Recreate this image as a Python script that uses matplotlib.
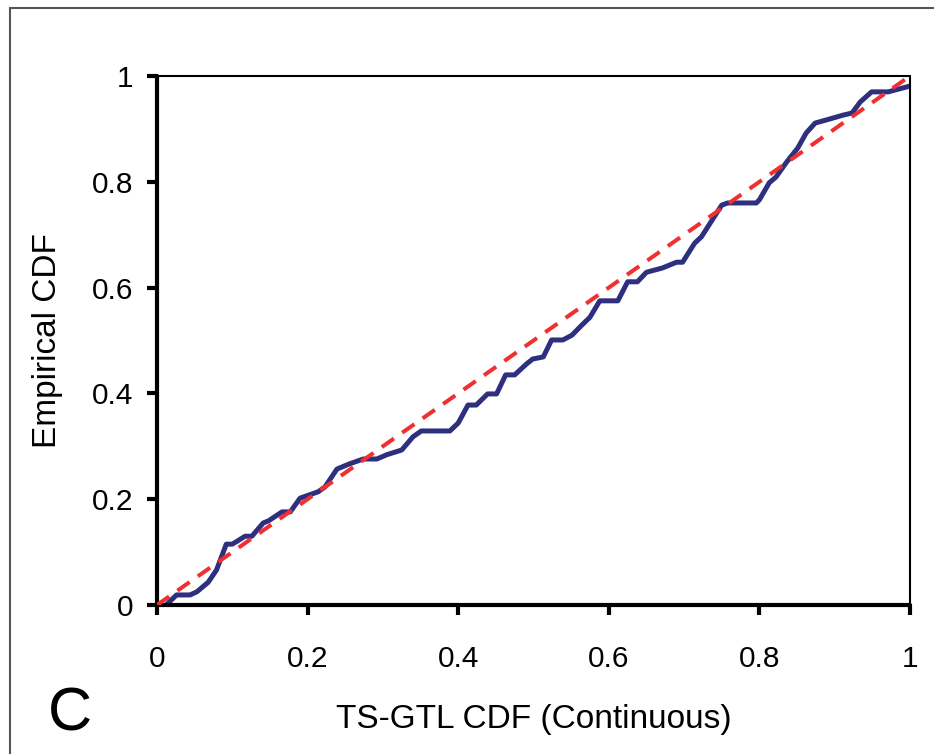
import matplotlib.pyplot as plt
from matplotlib.patches import Rectangle

plt.rcParams['font.family'] = ['Liberation Sans', 'DejaVu Sans']

# empirical CDF vs TS-GTL CDF
model_cdf = [0.015, 0.026, 0.044, 0.053, 0.068, 0.079, 0.092, 0.100, 0.117, 0.126,
             0.141, 0.148, 0.166, 0.177, 0.190, 0.214, 0.223, 0.239, 0.256, 0.274,
             0.292, 0.305, 0.325, 0.340, 0.351, 0.389, 0.400, 0.413, 0.424, 0.439,
             0.451, 0.463, 0.475, 0.491, 0.499, 0.513, 0.524, 0.539, 0.551, 0.562,
             0.575, 0.588, 0.612, 0.625, 0.638, 0.650, 0.671, 0.690, 0.698, 0.714,
             0.723, 0.750, 0.758, 0.796, 0.800, 0.813, 0.822, 0.836, 0.851, 0.862,
             0.874, 0.894, 0.911, 0.923, 0.934, 0.949, 0.971, 1.000]
empirical_cdf = [0.004, 0.019, 0.019, 0.025, 0.043, 0.066, 0.115, 0.115, 0.130, 0.130,
                 0.155, 0.159, 0.176, 0.176, 0.202, 0.214, 0.223, 0.257, 0.267, 0.276,
                 0.276, 0.284, 0.293, 0.318, 0.329, 0.329, 0.344, 0.378, 0.378, 0.399,
                 0.399, 0.435, 0.435, 0.456, 0.465, 0.469, 0.501, 0.501, 0.510, 0.526,
                 0.544, 0.575, 0.575, 0.611, 0.611, 0.629, 0.637, 0.648, 0.648, 0.684,
                 0.696, 0.756, 0.760, 0.760, 0.766, 0.798, 0.809, 0.837, 0.864, 0.892,
                 0.911, 0.919, 0.926, 0.930, 0.951, 0.970, 0.970, 0.981]
diag = [0, 1]
ticks = [0, 0.2, 0.4, 0.6, 0.8, 1]
tick_labels = ['0', '0.2', '0.4', '0.6', '0.8', '1']

fig = plt.figure(figsize=(9.34, 7.54), dpi=100)
fig.patches.append(Rectangle((10 / 934, -0.1), 1.2, 0.1 + (754 - 8) / 754,
                             transform=fig.transFigure, fill=False,
                             edgecolor='#555555', linewidth=1.5))

ax = fig.add_axes([157 / 934, (754 - 605) / 754, (910 - 157) / 934, (605 - 76) / 754])
ax.plot(model_cdf, empirical_cdf, color='#2e2f7f', linewidth=3.6, zorder=2,
        solid_joinstyle='round')
ax.plot(diag, diag, color='#f03030', linewidth=2.9, linestyle=(0, (3.7, 2.5)), zorder=3)

ax.set_xlim(0, 1)
ax.set_ylim(0, 1)
ax.set_xticks(ticks)
ax.set_xticklabels(tick_labels)
ax.set_yticks(ticks)
ax.set_yticklabels(tick_labels)

ax.spines['left'].set_linewidth(3)
ax.spines['bottom'].set_linewidth(3)
ax.spines['top'].set_linewidth(1.5)
ax.spines['right'].set_linewidth(1.5)
for s in ax.spines.values():
    s.set_capstyle('round')
ax.tick_params(direction='out', length=7, width=3, labelsize=21.5)
ax.tick_params(axis='x', pad=22)
ax.tick_params(axis='y', pad=10)

ax.set_xlabel('TS-GTL CDF (Continuous)', fontsize=24, labelpad=22)
ax.set_ylabel('Empirical CDF', fontsize=24, labelpad=21)
fig.text(70 / 934, 1 - 715 / 754, 'C', fontsize=44, ha='center', va='center')

fig.savefig('out.png', dpi=100)
